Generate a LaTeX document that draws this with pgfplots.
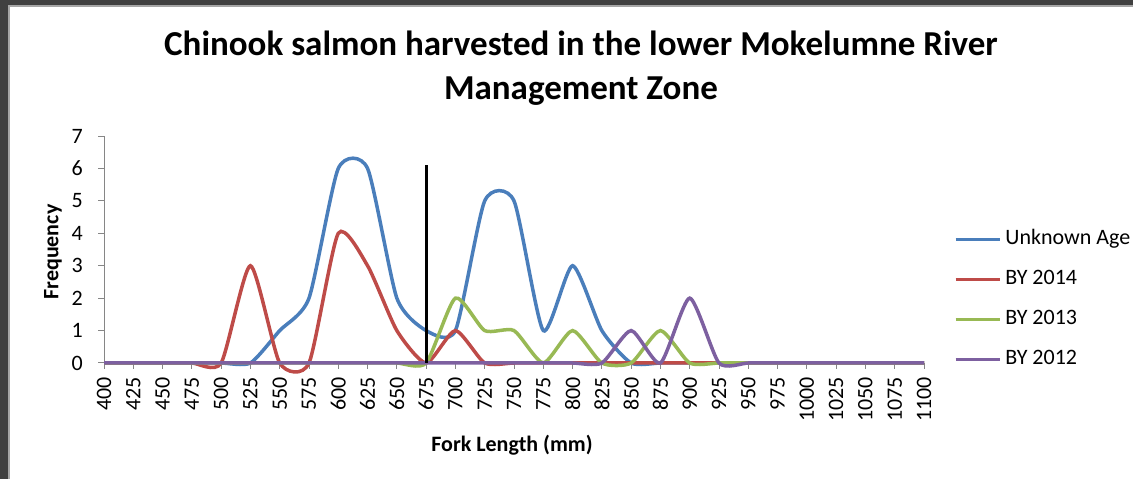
\documentclass[border=0pt]{standalone}
\usepackage{pgfplots}
\pgfplotsset{compat=1.18}
\usepackage{fontspec}
\setmainfont{Carlito}
\definecolor{sblue}{HTML}{4A7EBB}
\definecolor{sred}{HTML}{BE4B48}
\definecolor{sgreen}{HTML}{98B954}
\definecolor{spurple}{HTML}{7D60A0}
\definecolor{axgray}{HTML}{868686}
\definecolor{framedark}{HTML}{404040}
\definecolor{framelight}{HTML}{A6A6A6}
\begin{document}
\begin{tikzpicture}[x=1pt,y=1pt]
\path[use as bounding box, fill=white] (0,0) rectangle (1133,479);
\fill[framedark] (0,474) rectangle (1133,479);
\fill[framedark] (0,0) rectangle (8,479);
\fill[framelight] (8,472) rectangle (1133,474);
\fill[framelight] (8,0) rectangle (10,472);
\begin{axis}[
  at={(104pt,116pt)}, anchor=south west,
  scale only axis, width=820pt, height=227pt,
  xmin=0, xmax=28, ymin=0, ymax=7,
  enlargelimits=false,
  axis lines*=left,
  axis line style={axgray, line width=1pt},
  tick style={axgray, line width=1pt},
  tick align=outside,
  major tick length=6pt,
  xtick={0,...,28},
  xticklabels={400,425,450,475,500,525,550,575,600,625,650,675,700,725,750,775,800,825,850,875,900,925,950,975,1000,1025,1050,1075,1100},
  ytick={0,...,7},
  /pgf/number format/assume math mode=true,
  ticklabel style={font=\fontsize{22}{24}\selectfont, text=black},
  xticklabel style={rotate=90, anchor=east, inner sep=1pt, xshift=-7pt},
  yticklabel style={inner sep=2pt, xshift=-13pt},
  xlabel={\textbf{Fork Length (mm)}},
  ylabel={\textbf{Frequency}},
  xlabel style={font=\fontsize{22}{24}\selectfont, at={(axis description cs:0.4976,0)}, anchor=center, yshift=-82pt},
  ylabel style={font=\fontsize{22}{24}\selectfont, at={(axis description cs:-0.0622,0.489)}, anchor=center, rotate=0},
  title={\textbf{Chinook salmon harvested in the lower Mokelumne River}\\\textbf{Management Zone}},
  title style={font=\fontsize{35}{44}\selectfont, align=center, at={(axis description cs:0.5817,1.273)}, anchor=center},
  clip=false,
  legend style={draw=none, fill=none, at={(1.0365,0.588)}, anchor=north west,
    font=\fontsize{22}{26}\selectfont, row sep=20pt, inner sep=0pt, outer sep=0pt,
    nodes={inner sep=0pt, text height=15pt, text depth=5pt, anchor=west},
    /tikz/column sep=4pt},
  legend cell align=left,
  legend image code/.code={\draw[#1, line width=3.5pt] (0pt,0pt) -- (44pt,0pt);},
  every axis plot/.append style={smooth, tension=0.38, line width=3.5pt, no markers},
]
\addplot[sblue] coordinates {(0,0)(1,0)(2,0)(3,0)(4,0)(5,0)(6,1)(7,2)(8,6)(9,6)(10,2)(11,1)(12,1)(13,5)(14,5)(15,1)(16,3)(17,1)(18,0)(19,0)(20,0)(21,0)(22,0)(23,0)(24,0)(25,0)(26,0)(27,0)(28,0)};
\addlegendentry{Unknown Age}
\addplot[sred] coordinates {(0,0)(1,0)(2,0)(3,0)(4,0)(5,3)(6,0)(7,0)(8,4)(9,3)(10,1)(11,0)(12,1)(13,0)(14,0)(15,0)(16,0)(17,0)(18,0)(19,0)(20,0)(21,0)(22,0)(23,0)(24,0)(25,0)(26,0)(27,0)(28,0)};
\addlegendentry{BY 2014}
\addplot[sgreen] coordinates {(0,0)(1,0)(2,0)(3,0)(4,0)(5,0)(6,0)(7,0)(8,0)(9,0)(10,0)(11,0)(12,2)(13,1)(14,1)(15,0)(16,1)(17,0)(18,0)(19,1)(20,0)(21,0)(22,0)(23,0)(24,0)(25,0)(26,0)(27,0)(28,0)};
\addlegendentry{BY 2013}
\addplot[spurple] coordinates {(0,0)(1,0)(2,0)(3,0)(4,0)(5,0)(6,0)(7,0)(8,0)(9,0)(10,0)(11,0)(12,0)(13,0)(14,0)(15,0)(16,0)(17,0)(18,1)(19,0)(20,2)(21,0)(22,0)(23,0)(24,0)(25,0)(26,0)(27,0)(28,0)};
\addlegendentry{BY 2012}
\addplot[black, line width=3pt, sharp plot, forget plot] coordinates {(11,0)(11,6.1)};
\end{axis}
\end{tikzpicture}
\end{document}
